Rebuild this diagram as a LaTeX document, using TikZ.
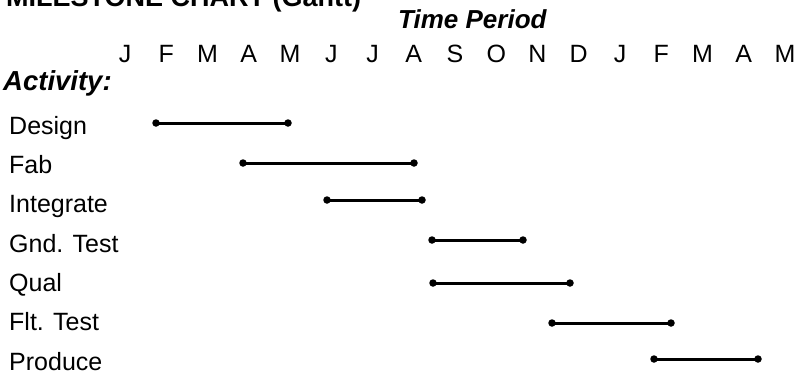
\documentclass[tikz,border=0pt]{standalone}
\usepackage{fontspec}
\setmainfont{Liberation Sans}
\begin{document}
\begin{tikzpicture}[x=1pt,y=-1pt,
  lbl/.style={anchor=base west,inner sep=0pt,font=\fontsize{25}{30}\selectfont},
  mon/.style={anchor=base,inner sep=0pt,font=\fontsize{25}{30}\selectfont},
  hdr/.style={inner sep=0pt,font=\fontsize{26}{30}\selectfont\bfseries\itshape},
  dot/.style={circle,fill=black,inner sep=0pt,minimum size=7.5pt},
  bar/.style={line width=3pt}]
\useasboundingbox (0,0) rectangle (800,375);
\begin{scope}
\clip (0,0) rectangle (800,375);
\node[anchor=base west,inner sep=0pt,font=\fontsize{27}{30}\selectfont\bfseries] (title) at (6,6) {MILESTONE CHART (Gantt)};
\end{scope}
\node[hdr,anchor=base west] (tp) at (398,28) {Time Period};
\node[hdr,anchor=base west,font=\fontsize{27.5}{30}\selectfont\bfseries\itshape] (act) at (3,90) {Activity:};
\foreach \m [count=\i from 0] in {J,F,M,A,M,J,J,A,S,O,N,D,J,F,M,A,M}
  \node[mon] (m\i) at (125+41.25*\i,62) {\m};
\node[lbl] (l1) at (9,134) {Design};
\node[lbl] (l2) at (9,173) {Fab};
\node[lbl] (l3) at (9,212) {Integrate};
\node[lbl] (l4) at (9,252) {Gnd. Test};
\node[lbl] (l5) at (9,291) {Qual};
\node[lbl] (l6) at (9,330) {Flt. Test};
\node[lbl] (l7) at (9,370) {Produce};
\foreach \n/\a/\b/\y in {1/156/288/123, 2/243/414/163, 3/327/422/200, 4/432/523/240, 5/433/570/283, 6/552/671/323, 7/654/758/359}{
  \node[dot] (s\n) at (\a,\y) {};
  \node[dot] (e\n) at (\b,\y) {};
  \draw[bar] (s\n.center) -- (e\n.center);
}
\end{tikzpicture}
\end{document}
